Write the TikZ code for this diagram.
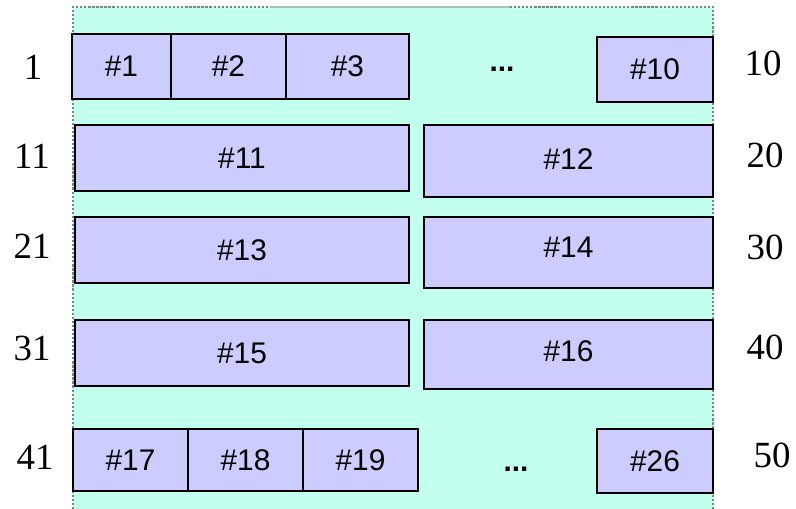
\documentclass[tikz,border=0pt]{standalone}
\usepackage{fontspec}
\setmainfont{Liberation Serif}
\newfontfamily\cellfont{Liberation Sans}
\usepackage{xcolor}
\definecolor{bgmint}{RGB}{194,255,238}
\definecolor{cellblue}{RGB}{204,204,255}
\definecolor{rimgray}{RGB}{120,136,132}
\definecolor{rimlight}{RGB}{170,190,184}
\tikzset{
  cell/.style={draw=black,line width=1.5pt,fill=cellblue},
  celltext/.style={font=\cellfont\fontsize{17}{20}\selectfont},
  rowlabel/.style={font=\fontsize{21}{24}\selectfont}
}

\begin{document}
\begin{tikzpicture}[x=0.02cm,y=-0.02cm]
    \useasboundingbox (0,0) rectangle (796,509);

    % Memory area
    \fill[bgmint] (73,7) rectangle (713,509);
    \draw[rimgray,densely dotted,line width=1.3pt] (73,509) -- (73,7) -- (270,7);
    \draw[rimlight,line width=1.3pt] (270,7) -- (510,7);
    \draw[rimgray,densely dotted,line width=1.3pt] (510,7) -- (713,7) -- (713,509);

    % Row 1
    \draw[cell] (72,34) rectangle (171,99);
    \draw[cell] (171,34) rectangle (286,99);
    \draw[cell] (286,34) rectangle (409,99);
    \draw[cell] (597,37) rectangle (713,102);
    \node[celltext] (c1) at (121.5,66.5) {\#1};
    \node[celltext] (c2) at (228.5,66.5) {\#2};
    \node[celltext] (c3) at (347.5,66.5) {\#3};
    \node[celltext] (c10) at (655,69.5) {\#10};
    \node[celltext,font=\cellfont\bfseries\fontsize{17}{20}\selectfont] (dots1) at (502,69) {...};

    % Rows 2 to 4
    \draw[cell] (75,125) rectangle (409,191);
    \draw[cell] (424,125) rectangle (713,197);
    \draw[cell] (75,217) rectangle (409,283);
    \draw[cell] (424,217) rectangle (713,288);
    \draw[cell] (75,320) rectangle (409,386);
    \draw[cell] (424,320) rectangle (713,389);
    \node[celltext] (c11) at (242,158) {\#11};
    \node[celltext] (c12) at (568.5,159) {\#12};
    \node[celltext] (c13) at (242,250) {\#13};
    \node[celltext] (c14) at (568.5,247) {\#14};
    \node[celltext] (c15) at (242,353) {\#15};
    \node[celltext] (c16) at (568.5,351) {\#16};

    % Row 5
    \draw[cell] (73,429) rectangle (188,491);
    \draw[cell] (188,429) rectangle (303,491);
    \draw[cell] (303,429) rectangle (418,491);
    \draw[cell] (597,429) rectangle (713,493);
    \node[celltext] (c17) at (130.5,460) {\#17};
    \node[celltext] (c18) at (245.5,460) {\#18};
    \node[celltext] (c19) at (360.5,460) {\#19};
    \node[celltext] (c26) at (655,461) {\#26};
    \node[celltext,font=\cellfont\bfseries\fontsize{17}{20}\selectfont] (dots5) at (516,469) {...};

    % Row numbers
    \node[rowlabel] (l1) at (33,67) {1};
    \node[rowlabel] (l11) at (32,156) {11};
    \node[rowlabel] (l21) at (32,246) {21};
    \node[rowlabel] (l31) at (32,348) {31};
    \node[rowlabel] (l41) at (35,457) {41};
    \node[rowlabel] (l10) at (763,63) {10};
    \node[rowlabel] (l20) at (765,155) {20};
    \node[rowlabel] (l30) at (765,247) {30};
    \node[rowlabel] (l40) at (765,347) {40};
    \node[rowlabel] (l50) at (772,455) {50};
\end{tikzpicture}
\end{document}
